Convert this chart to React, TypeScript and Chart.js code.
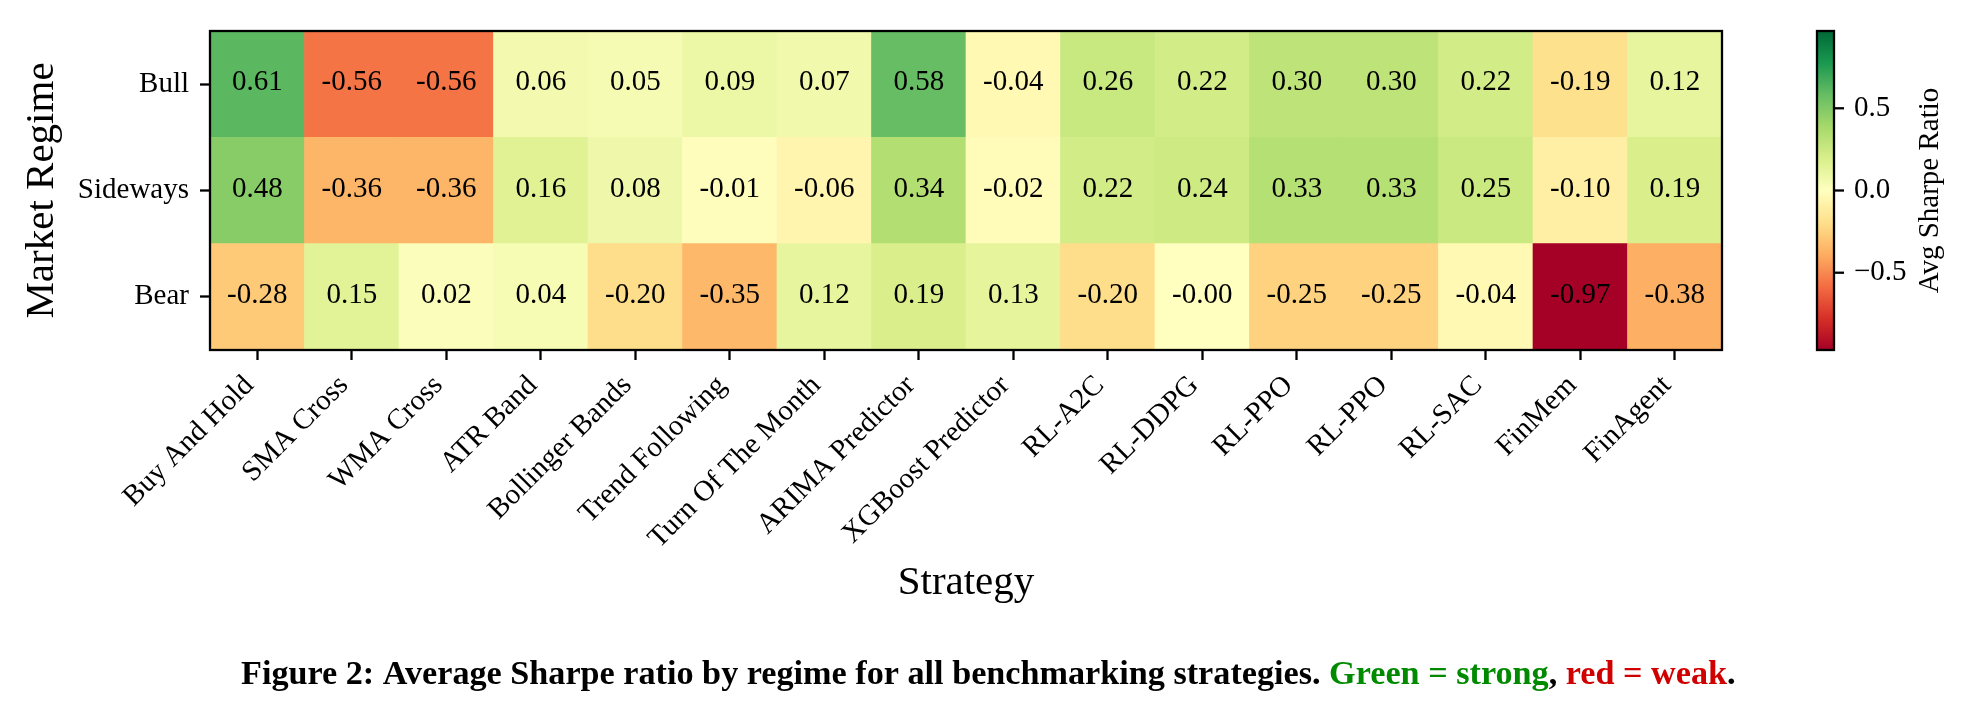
import React, { useEffect, useRef } from 'react';
import { Chart, registerables } from 'chart.js';

Chart.register(...registerables);

// ---------- data ----------
const strategies = [
  'Buy And Hold', 'SMA Cross', 'WMA Cross', 'ATR Band', 'Bollinger Bands',
  'Trend Following', 'Turn Of The Month', 'ARIMA Predictor', 'XGBoost Predictor',
  'RL-A2C', 'RL-DDPG', 'RL-PPO', 'RL-PPO', 'RL-SAC', 'FinMem', 'FinAgent',
];
const regimes = ['Bull', 'Sideways', 'Bear'];
const bullSharpe = [0.61, -0.56, -0.56, 0.06, 0.05, 0.09, 0.07, 0.58, -0.04, 0.26, 0.22, 0.30, 0.30, 0.22, -0.19, 0.12];
const sidewaysSharpe = [0.48, -0.36, -0.36, 0.16, 0.08, -0.01, -0.06, 0.34, -0.02, 0.22, 0.24, 0.33, 0.33, 0.25, -0.10, 0.19];
const bearSharpe = [-0.28, 0.15, 0.02, 0.04, -0.20, -0.35, 0.12, 0.19, 0.13, -0.20, -0.0, -0.25, -0.25, -0.04, -0.97, -0.38];
const colorbarTicks = [-0.5, 0.0, 0.5];
const colorMin = -0.97;
const colorMax = 0.97;
const xTitle = 'Strategy';
const yTitle = 'Market Regime';
const colorbarTitle = 'Avg Sharpe Ratio';
const captionParts = [
  { text: 'Figure 2: Average Sharpe ratio by regime for all benchmarking strategies. ', color: '#000000' },
  { text: 'Green = strong', color: '#008a00' },
  { text: ', ', color: '#000000' },
  { text: 'red = weak', color: '#d00000' },
  { text: '.', color: '#000000' },
];

// ---------- styling ----------
const FONT = '"Liberation Serif", "Times New Roman", serif';
const W = 1969;
const H = 708;
const LINE = 2.3;

// matplotlib RdYlGn
const RDYLGN = [
  [165, 0, 38], [215, 48, 39], [244, 109, 67], [253, 174, 97], [254, 224, 139],
  [255, 255, 191], [217, 239, 139], [166, 217, 106], [102, 189, 99], [26, 152, 80], [0, 104, 55],
];
function rdylgn(t: number): string {
  const tt = Math.min(1, Math.max(0, t));
  const p = tt * 10;
  const i = Math.min(9, Math.floor(p));
  const f = p - i;
  const a = RDYLGN[i];
  const b = RDYLGN[i + 1];
  const c = [0, 1, 2].map((k) => Math.round(a[k] + (b[k] - a[k]) * f));
  return `rgb(${c[0]},${c[1]},${c[2]})`;
}
const norm = (v: number) => (v - colorMin) / (colorMax - colorMin);
const fmt = (v: number) => (v < 0 || Object.is(v, -0) ? '-' + Math.abs(v).toFixed(2) : v.toFixed(2));

// rows from bottom to top for stacking
const rowsBottomUp = [
  { name: regimes[2], values: bearSharpe },
  { name: regimes[1], values: sidewaysSharpe },
  { name: regimes[0], values: bullSharpe },
];

const decorPlugin = {
  id: 'heatmapDecor',
  afterDatasetsDraw(chart: any) {
    const ctx: CanvasRenderingContext2D = chart.ctx;
    const area = chart.chartArea;
    ctx.save();
    // cell annotations
    ctx.font = `29px ${FONT}`;
    ctx.fillStyle = '#000';
    ctx.textAlign = 'center';
    ctx.textBaseline = 'middle';
    chart.data.datasets.forEach((ds: any, di: number) => {
      const meta = chart.getDatasetMeta(di);
      meta.data.forEach((bar: any, i: number) => {
        const p = bar.getProps(['x', 'y', 'base'], true);
        ctx.fillText(fmt(ds.sharpe[i]), p.x, (p.y + p.base) / 2 - 1.5);
      });
    });
    // frame
    ctx.strokeStyle = '#000';
    ctx.lineWidth = LINE;
    ctx.strokeRect(area.left, area.top, area.right - area.left, area.bottom - area.top);

    // rotated x tick labels
    const xs = chart.scales.x;
    ctx.font = `29px ${FONT}`;
    ctx.textAlign = 'right';
    ctx.textBaseline = 'middle';
    strategies.forEach((s, i) => {
      const px = xs.getPixelForTick(i);
      ctx.save();
      ctx.translate(px - 8, area.bottom + 31);
      ctx.rotate(-Math.PI / 4);
      ctx.fillText(s, 0, 0);
      ctx.restore();
    });

    // colorbar via hidden linear scale
    const cb = chart.scales.cbar;
    const cbX = 1817;
    const cbW = 17;
    const yTop = cb.getPixelForValue(colorMax);
    const yBot = cb.getPixelForValue(colorMin);
    const grad = ctx.createLinearGradient(0, yBot, 0, yTop);
    RDYLGN.forEach((c, k) => grad.addColorStop(k / 10, `rgb(${c[0]},${c[1]},${c[2]})`));
    ctx.fillStyle = grad;
    ctx.fillRect(cbX, yTop, cbW, yBot - yTop);
    ctx.strokeStyle = '#000';
    ctx.lineWidth = LINE;
    ctx.strokeRect(cbX, yTop, cbW, yBot - yTop);
    ctx.fillStyle = '#000';
    ctx.font = `29px ${FONT}`;
    ctx.textAlign = 'left';
    ctx.textBaseline = 'middle';
    colorbarTicks.forEach((v) => {
      const y = cb.getPixelForValue(v);
      ctx.beginPath();
      ctx.moveTo(cbX + cbW, y);
      ctx.lineTo(cbX + cbW + 10, y);
      ctx.stroke();
      const label = v < 0 ? '\u2212' + Math.abs(v).toFixed(1) : v.toFixed(1);
      ctx.fillText(label, cbX + cbW + 20, y);
    });
    ctx.save();
    ctx.translate(1930, (yTop + yBot) / 2);
    ctx.rotate(-Math.PI / 2);
    ctx.textAlign = 'center';
    ctx.fillText(colorbarTitle, 0, 0);
    ctx.restore();

    // caption
    const base = 34;
    ctx.font = `bold ${base}px ${FONT}`;
    const total = captionParts.reduce((s, p) => s + ctx.measureText(p.text).width, 0);
    const size = base * 1495 / total;
    ctx.font = `bold ${size}px ${FONT}`;
    ctx.textAlign = 'left';
    ctx.textBaseline = 'alphabetic';
    let cx = 241;
    captionParts.forEach((p) => {
      ctx.fillStyle = p.color;
      ctx.fillText(p.text, cx, 684);
      cx += ctx.measureText(p.text).width;
    });
    ctx.restore();
  },
};

export default function App() {
  const ref = useRef<HTMLCanvasElement | null>(null);
  useEffect(() => {
    document.body.style.margin = '0';
    const canvas = ref.current;
    if (!canvas) return;
    const chart = new Chart(canvas, {
      type: 'bar',
      data: {
        labels: strategies,
        datasets: rowsBottomUp.map((row) => ({
          label: row.name,
          data: row.values.map(() => 1),
          sharpe: row.values,
          backgroundColor: row.values.map((v) => rdylgn(norm(v))),
          borderWidth: 0,
          barPercentage: 1,
          categoryPercentage: 1,
        })) as any,
      },
      options: {
        responsive: false,
        maintainAspectRatio: false,
        devicePixelRatio: 1,
        animation: false,
        events: [],
        layout: { padding: { left: 0, top: 31, right: 247, bottom: 78 } },
        plugins: { legend: { display: false }, tooltip: { enabled: false } },
        scales: {
          x: {
            stacked: true,
            offset: true,
            grid: { display: true, drawOnChartArea: false, drawTicks: true, tickLength: 10, tickWidth: LINE, tickColor: '#000', offset: false },
            border: { display: false },
            ticks: { display: false },
            title: {
              display: true,
              text: xTitle,
              color: '#000',
              font: { family: FONT, size: 41, lineHeight: 1.2 },
              padding: { top: 0, bottom: 22 },
            },
            afterFit: (s: any) => { s.height = 280; },
          },
          y: {
            stacked: true,
            min: 0,
            max: 3,
            afterBuildTicks: (s: any) => { s.ticks = [0.5, 1.5, 2.5].map((value) => ({ value })); },
            ticks: {
              callback: (v: any) => rowsBottomUp[Math.floor(Number(v))].name,
              color: '#000',
              font: { family: FONT, size: 29 },
              padding: 11,
            },
            grid: { display: true, drawOnChartArea: false, drawTicks: true, tickLength: 10, tickWidth: LINE, tickColor: '#000' },
            border: { display: false },
            title: {
              display: true,
              text: yTitle,
              color: '#000',
              font: { family: FONT, size: 41, lineHeight: 1.2 },
              padding: { top: 17.4, bottom: 0 },
            },
            afterFit: (s: any) => { s.width = 210; },
          },
          cbar: {
            type: 'linear',
            display: false,
            position: 'right',
            min: colorMin,
            max: colorMax,
          },
        },
      } as any,
      plugins: [decorPlugin],
    });
    return () => chart.destroy();
  }, []);
  return (
    <canvas ref={ref} width={W} height={H} style={{ display: 'block', width: W, height: H }} />
  );
}
